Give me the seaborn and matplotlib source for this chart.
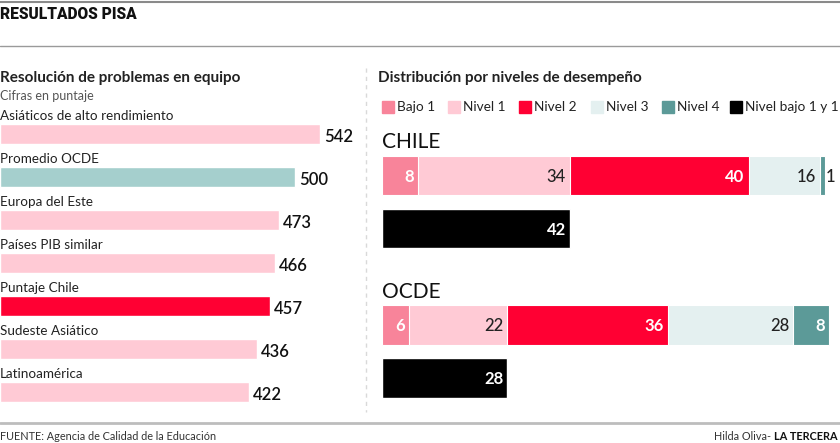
import matplotlib
matplotlib.use("Agg")
import matplotlib.pyplot as plt
import seaborn as sns
import pandas as pd

# ---------------- data ----------------
regions = ["Asiáticos de alto rendimiento", "Promedio OCDE", "Europa del Este",
           "Países PIB similar", "Puntaje Chile", "Sudeste Asiático", "Latinoamérica"]
scores = [542, 500, 473, 466, 457, 436, 422]

levels = ["Bajo 1", "Nivel 1", "Nivel 2", "Nivel 3", "Nivel 4"]
chile_levels = [8, 34, 40, 16, 1]
ocde_levels = [6, 22, 36, 28, 8]
combined_label = "Nivel bajo 1 y 1"
chile_combined = 42
ocde_combined = 28

# ---------------- style ----------------
sns.set_theme(style="white")
plt.rcParams["font.family"] = ["Lato", "DejaVu Sans"]

W, H = 840, 443
fig = plt.figure(figsize=(W / 100, H / 100), dpi=100)
fig.patch.set_facecolor("white")

def fx(px):
    return px / W

def fy(py):
    return 1 - py / H

PINK = "#FFCAD5"
TEAL = "#A5CFCD"
RED = "#FF0033"
level_colors = ["#F8849A", "#FFCAD5", "#FF0033", "#E4F0F0", "#5C9A98"]
label_colors = ["white", "#222222", "white", "#222222", "white"]

# ---------------- frame / text ----------------
fig.add_artist(plt.Line2D([0, 1], [fy(2), fy(2)], color="#8a8a8a", lw=1.5))
fig.add_artist(plt.Line2D([0, 1], [fy(46), fy(46)], color="#9a9a9a", lw=1.0))
fig.add_artist(plt.Line2D([0, 1], [fy(423), fy(423)], color="#bdbdbd", lw=2.0))
fig.add_artist(plt.Line2D([fx(366), fx(366)], [fy(68), fy(412)], color="#d9d9d9",
                          lw=1.0, ls=(0, (3, 3))))

fig.text(fx(0), fy(14), "RESULTADOS PISA", fontsize=11.2, fontweight=900,
         family=["Roboto", "Lato", "DejaVu Sans"],
         color="#111111", va="center", ha="left")
fig.text(fx(0), fy(78), "Resolución de problemas en equipo", fontsize=11,
         fontweight="bold", color="#222222", va="center", ha="left")
fig.text(fx(0), fy(96), "Cifras en puntaje", fontsize=9, color="#555555",
         va="center", ha="left")
fig.text(fx(378), fy(78), "Distribución por niveles de desempeño", fontsize=11,
         fontweight="bold", color="#222222", va="center", ha="left")
fig.text(fx(0), fy(436), "FUENTE: Agencia de Calidad de la Educación", fontsize=7.8,
         color="#333333", va="center", ha="left")
t1 = fig.text(fx(838), fy(436), "LA TERCERA", fontsize=7.8, fontweight="bold",
              color="#111111", va="center", ha="right")
fig.canvas.draw()
bb = t1.get_window_extent()
fig.text((bb.x0 - 3) / W, fy(436), "Hilda Oliva-", fontsize=7.8, color="#333333",
         va="center", ha="right")

# ---------------- left panel ----------------
scale_l = 0.59  # px per point
axl = fig.add_axes([0, fy(413.5), fx(360), (413.5 - 112.5) / H])
df_l = pd.DataFrame({"region": regions, "score": scores})
pal = [TEAL if r == "Promedio OCDE" else RED if r == "Puntaje Chile" else PINK
       for r in regions]
sns.barplot(data=df_l, x="score", y="region", hue="region", palette=pal,
            order=regions, width=20 / 43, legend=False, ax=axl, saturation=1)
axl.set_xlim(0, 360 / scale_l)
axl.set_ylim(6.5, -0.5)
axl.axis("off")
for i, (r, s) in enumerate(zip(regions, scores)):
    axl.text(0, i - 0.42, r, fontsize=9.7, color="#222222", va="center", ha="left")
    axl.text(s + 4 / scale_l, i + 0.08, str(s), fontsize=12, fontweight="semibold",
             color="#111111", va="center", ha="left")

# ---------------- right panel ----------------
scale_r = 4.47
legend_x = [382, 448, 519, 591, 662, 730]
leg_labels = levels + [combined_label]
leg_colors = level_colors + ["black"]
for x, lab, c in zip(legend_x, leg_labels, leg_colors):
    fig.patches.append(plt.Rectangle((fx(x), fy(113)), fx(12), 12 / H, color=c,
                                     transform=fig.transFigure, figure=fig))
    fig.text(fx(x + 15), fy(107), lab, fontsize=9.8, color="#222222",
             va="center", ha="left")

def country_panel(top_px, name, vals, comb):
    ax = fig.add_axes([fx(382), fy(top_px + 106), fx(458), 106 / H])
    rows = ["stack", "comb"]
    cum = []
    s = 0
    for v in vals:
        s += v
        cum.append(s)
    for k in range(len(vals) - 1, -1, -1):
        d = pd.DataFrame({"row": ["stack"], "val": [cum[k]]})
        sns.barplot(data=d, x="val", y="row", order=rows, color=level_colors[k],
                    width=0.74, ax=ax, saturation=1, edgecolor="white", linewidth=0.8)
    d = pd.DataFrame({"row": ["comb"], "val": [comb]})
    sns.barplot(data=d, x="val", y="row", order=rows, color="black", width=0.74,
                ax=ax, saturation=1)
    ax.set_xlim(0, 458 / scale_r)
    ax.set_ylim(1.5, -0.5)
    ax.axis("off")
    pad = 4 / scale_r
    for k, v in enumerate(vals):
        if v >= 3:
            ax.text(cum[k] - pad, 0.02, str(v), fontsize=12, color=label_colors[k],
                    fontweight="bold" if label_colors[k] == "white" else "medium",
                    va="center", ha="right")
        else:
            ax.text(cum[k] + 1.5 / scale_r, 0.02, str(v), fontsize=12, color="#222222",
                    fontweight="medium", va="center", ha="left")
    ax.text(comb - pad, 1.02, str(comb), fontsize=12, color="white",
            fontweight="bold", va="center", ha="right")
    fig.text(fx(382), fy(top_px - 7), name, fontsize=15, color="#111111",
             va="center", ha="left")

country_panel(149, "CHILE", chile_levels, chile_combined)
country_panel(298.5, "OCDE", ocde_levels, ocde_combined)

fig.savefig("out.png", dpi=100, facecolor="white")
